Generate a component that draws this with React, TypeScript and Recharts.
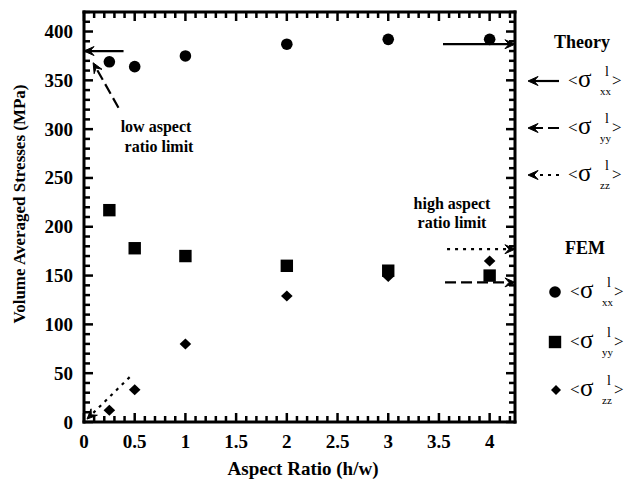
import React from 'react';
import {
    ScatterChart,
    Scatter,
    XAxis,
    YAxis,
    ReferenceLine,
    Customized,
} from 'recharts';

// aspect ratios (h/w) where FEM was run
const aspectRatios = [0.25, 0.5, 1, 2, 3, 4];
// FEM volume averaged stresses (MPa)
const femXX = [369, 364, 375, 387, 392, 392];
const femYY = [217, 178, 170, 160, 155, 150];
const femZZ = [12, 33, 80, 129, 149, 165];

// theory limits: [xx, yy, zz]
const theoryLow = [380, null, 0];
const theoryHigh = [387, 143, 177];

const xTickLabels = [0, 0.5, 1, 1.5, 2, 2.5, 3, 3.5, 4];
const yTickLabels = [0, 50, 100, 150, 200, 250, 300, 350, 400];

const X_MAX = 4.25;
const Y_MAX = 420;

// minor tick positions every 0.1 / 10
const xMinor: number[] = [];
for (let i = 1; i <= 42; i++) if (i % 5 !== 0) xMinor.push(i / 10);
const yMinor: number[] = [];
for (let i = 1; i <= 42; i++) if (i % 5 !== 0) yMinor.push(i * 10);

const FONT = '"Liberation Serif", "Times New Roman", Times, serif';
const INK = '#000';
const bold = { fontFamily: FONT, fontWeight: 700 } as const;
const plain = { fontFamily: FONT, fontWeight: 400 } as const;

const toPoints = (ys: number[]) => aspectRatios.map((x, i) => ({ x, y: ys[i] }));

const MAJOR = 9;
const MINOR = 6;

// a segment spanning the frame; only its two ends get an inward tick
const vTicks = (len: number) => (p: any) => {
    const top = Math.min(p.y1, p.y2);
    const bottom = Math.max(p.y1, p.y2);
    return (
        <g stroke={INK} strokeWidth={2.5}>
            <line x1={p.x1} x2={p.x1} y1={bottom} y2={bottom - len} />
            <line x1={p.x1} x2={p.x1} y1={top} y2={top + len} />
        </g>
    );
};
const hTicks = (len: number) => (p: any) => {
    const left = Math.min(p.x1, p.x2);
    const right = Math.max(p.x1, p.x2);
    return (
        <g stroke={INK} strokeWidth={2.5}>
            <line x1={left} x2={left + len} y1={p.y1} y2={p.y1} />
            <line x1={right} x2={right - len} y1={p.y1} y2={p.y1} />
        </g>
    );
};

const BottomTick = (p: any) => (
    <text x={p.x} y={p.y + 26} textAnchor="middle" style={{ ...bold, fontSize: 19 }} fill={INK}>
        {String(p.payload.value)}
    </text>
);

const LeftTick = (p: any) => (
    <text x={p.x - 11} y={p.y + 6.5} textAnchor="end" style={{ ...bold, fontSize: 19 }} fill={INK}>
        {String(p.payload.value)}
    </text>
);

// barbed arrowhead at (x2, y2)
const arrowHead = (x1: number, y1: number, x2: number, y2: number) => {
    const ang = Math.atan2(y2 - y1, x2 - x1);
    const L = 11;
    const a = 0.42;
    const w1x = x2 - L * Math.cos(ang - a);
    const w1y = y2 - L * Math.sin(ang - a);
    const w2x = x2 - L * Math.cos(ang + a);
    const w2y = y2 - L * Math.sin(ang + a);
    const nx = x2 - 6 * Math.cos(ang);
    const ny = y2 - 6 * Math.sin(ang);
    return `M${x2},${y2} L${w1x},${w1y} L${nx},${ny} L${w2x},${w2y} Z`;
};

const Arrow = ({ x1, y1, x2, y2, dash }: any) => {
    const ang = Math.atan2(y2 - y1, x2 - x1);
    const ex = x2 - 5 * Math.cos(ang);
    const ey = y2 - 5 * Math.sin(ang);
    return (
        <g>
            <line x1={x1} y1={y1} x2={ex} y2={ey} stroke={INK} strokeWidth={2.2} strokeDasharray={dash} />
            <path d={arrowHead(x1, y1, x2, y2)} fill={INK} stroke={INK} strokeWidth={1} />
        </g>
    );
};

const arrowShape = (dash?: string) => (p: any) => (
    <Arrow x1={p.x1} y1={p.y1} x2={p.x2} y2={p.y2} dash={dash} />
);

const SOLID = undefined;
const DASHED = '11 5';
const DOTTED = '3 5';

const Circle = (p: any) => <circle cx={p.cx} cy={p.cy} r={5.8} fill={INK} />;
const Square = (p: any) => <rect x={p.cx - 6.2} y={p.cy - 6.2} width={12.4} height={12.4} fill={INK} />;
const Diamond = (p: any) => (
    <path d={`M${p.cx},${p.cy - 5.5} L${p.cx + 5.8},${p.cy} L${p.cx},${p.cy + 5.5} L${p.cx - 5.8},${p.cy} Z`} fill={INK} />
);

const SigmaLabel = ({ x, y, sub }: { x: number; y: number; sub: string }) => (
    <g fill={INK}>
        <text x={x} y={y + 5} style={{ ...plain, fontSize: 17 }}>&lt;</text>
        <text x={x + 10} y={y + 6} style={{ ...plain, fontSize: 25 }}>σ</text>
        <text x={x + 37} y={y - 5} style={{ ...plain, fontSize: 14 }}>l</text>
        <text x={x + 32} y={y + 14} style={{ ...plain, fontSize: 11 }}>{sub}</text>
        <text x={x + 44} y={y + 5} style={{ ...plain, fontSize: 17 }}>&gt;</text>
    </g>
);

const Overlay = () => (
    <g>
        {/* axis titles */}
        <text x={19} y={204} transform="rotate(-90 19 204)" dy={6} textAnchor="middle" style={{ ...bold, fontSize: 17 }} fill={INK}>
            Volume Averaged Stresses (MPa)
        </text>
        <text x={303} y={475} textAnchor="middle" style={{ ...bold, fontSize: 19 }} fill={INK}>
            Aspect Ratio (h/w)
        </text>

        {/* annotations */}
        <g fill={INK} textAnchor="middle" style={{ ...bold, fontSize: 16 }}>
            <text x={156} y={132}>low aspect</text>
            <text x={159} y={152}>ratio limit</text>
            <text x={452} y={209}>high aspect</text>
            <text x={452} y={228}>ratio limit</text>
        </g>

        {/* legend: theory */}
        <text x={582} y={48} textAnchor="middle" style={{ ...bold, fontSize: 18 }} fill={INK}>Theory</text>
        <Arrow x1={559} y1={81} x2={528} y2={81} dash={SOLID} />
        <SigmaLabel x={568} y={81} sub="xx" />
        <Arrow x1={559} y1={128} x2={528} y2={128} dash={DASHED} />
        <SigmaLabel x={568} y={128} sub="yy" />
        <Arrow x1={559} y1={175} x2={528} y2={175} dash={DOTTED} />
        <SigmaLabel x={568} y={175} sub="zz" />

        {/* legend: FEM */}
        <text x={585} y={254} textAnchor="middle" style={{ ...bold, fontSize: 18 }} fill={INK}>FEM</text>
        <Circle cx={555} cy={292} />
        <SigmaLabel x={570} y={292} sub="xx" />
        <Square cx={555} cy={342} />
        <SigmaLabel x={570} y={342} sub="yy" />
        <path d="M556,385 L561,390 L556,395 L551,390 Z" fill={INK} />
        <SigmaLabel x={570} y={390} sub="zz" />
    </g>
);

const axisLine = { stroke: INK, strokeWidth: 3, strokeLinecap: 'square' as const };

export default function App() {
    return (
        <div style={{ position: 'absolute', left: 0, top: 0 }}>
            <ScatterChart width={628} height={485} margin={{ top: 7, right: 103, left: 24, bottom: 23 }}>
                <XAxis
                    xAxisId="b"
                    dataKey="x"
                    type="number"
                    domain={[0, X_MAX]}
                    ticks={xTickLabels}
                    interval={0}
                    tick={BottomTick}
                    tickLine={false}
                    tickSize={0}
                    tickMargin={0}
                    axisLine={axisLine}
                    height={40}
                />
                <XAxis
                    xAxisId="t"
                    orientation="top"
                    type="number"
                    domain={[0, X_MAX]}
                    tick={false}
                    tickLine={false}
                    axisLine={axisLine}
                    height={5}
                />
                <YAxis
                    yAxisId="l"
                    dataKey="y"
                    type="number"
                    domain={[0, Y_MAX]}
                    ticks={yTickLabels}
                    interval={0}
                    tick={LeftTick}
                    tickLine={false}
                    tickSize={0}
                    tickMargin={0}
                    axisLine={axisLine}
                    width={60}
                />
                <YAxis
                    yAxisId="r"
                    orientation="right"
                    type="number"
                    domain={[0, Y_MAX]}
                    tick={false}
                    tickLine={false}
                    axisLine={axisLine}
                    width={10}
                />

                {/* inward tick marks: bottom + top */}
                {xMinor.map(x => (
                    <ReferenceLine key={`xm-${x}`} xAxisId="b" yAxisId="l" ifOverflow="visible"
                        segment={[{ x, y: 0 }, { x, y: Y_MAX }]} shape={vTicks(MINOR)} />
                ))}
                {xTickLabels.map(x => (
                    <ReferenceLine key={`xM-${x}`} xAxisId="b" yAxisId="l" ifOverflow="visible"
                        segment={[{ x, y: 0 }, { x, y: Y_MAX }]} shape={vTicks(MAJOR)} />
                ))}
                {/* inward tick marks: left + right */}
                {yMinor.map(y => (
                    <ReferenceLine key={`ym-${y}`} xAxisId="b" yAxisId="l" ifOverflow="visible"
                        segment={[{ x: 0, y }, { x: X_MAX, y }]} shape={hTicks(MINOR)} />
                ))}
                {yTickLabels.map(y => (
                    <ReferenceLine key={`yM-${y}`} xAxisId="b" yAxisId="l" ifOverflow="visible"
                        segment={[{ x: 0, y }, { x: X_MAX, y }]} shape={hTicks(MAJOR)} />
                ))}

                {/* low aspect ratio limit */}
                <ReferenceLine xAxisId="b" yAxisId="l" ifOverflow="visible"
                    segment={[{ x: 0.39, y: theoryLow[0] as number }, { x: 0, y: theoryLow[0] as number }]}
                    shape={arrowShape(SOLID)} />
                <ReferenceLine xAxisId="b" yAxisId="l" ifOverflow="visible"
                    segment={[{ x: 0.34, y: 322 }, { x: 0.09, y: 368 }]}
                    shape={arrowShape(DASHED)} />
                <ReferenceLine xAxisId="b" yAxisId="l" ifOverflow="visible"
                    segment={[{ x: 0.45, y: 46 }, { x: 0.03, y: (theoryLow[2] as number) + 3 }]}
                    shape={arrowShape(DOTTED)} />

                {/* high aspect ratio limit */}
                <ReferenceLine xAxisId="b" yAxisId="l" ifOverflow="visible"
                    segment={[{ x: 3.54, y: theoryHigh[0] }, { x: X_MAX, y: theoryHigh[0] }]}
                    shape={arrowShape(SOLID)} />
                <ReferenceLine xAxisId="b" yAxisId="l" ifOverflow="visible"
                    segment={[{ x: 3.56, y: theoryHigh[1] }, { x: X_MAX, y: theoryHigh[1] }]}
                    shape={arrowShape(DASHED)} />
                <ReferenceLine xAxisId="b" yAxisId="l" ifOverflow="visible"
                    segment={[{ x: 3.58, y: theoryHigh[2] }, { x: X_MAX, y: theoryHigh[2] }]}
                    shape={arrowShape(DOTTED)} />

                <Scatter xAxisId="b" yAxisId="l" data={toPoints(femXX)} shape={Circle} isAnimationActive={false} />
                <Scatter xAxisId="b" yAxisId="l" data={toPoints(femYY)} shape={Square} isAnimationActive={false} />
                <Scatter xAxisId="b" yAxisId="l" data={toPoints(femZZ)} shape={Diamond} isAnimationActive={false} />

                <Customized component={Overlay} />
            </ScatterChart>
        </div>
    );
}
